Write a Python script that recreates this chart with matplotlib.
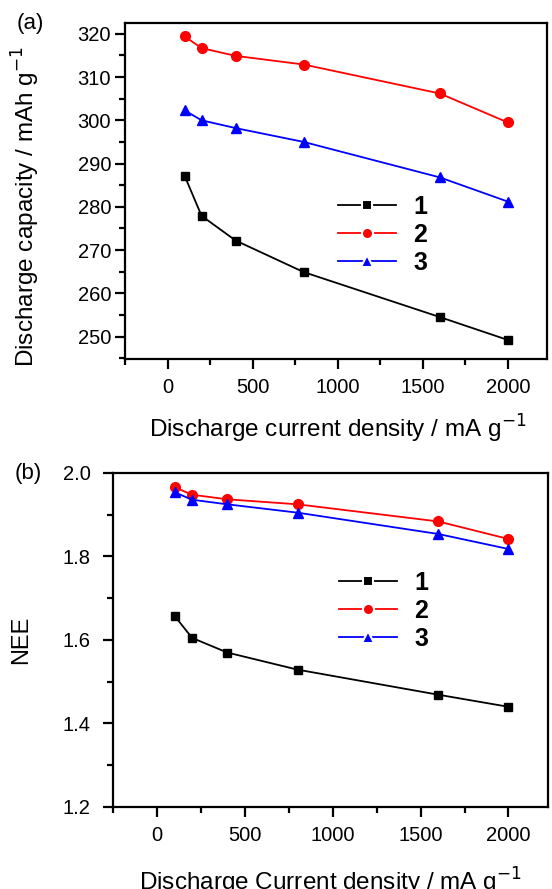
import matplotlib
matplotlib.use("Agg")
import matplotlib.pyplot as plt
from matplotlib.lines import Line2D
from matplotlib.ticker import MultipleLocator

plt.rcParams['font.family'] = ['Liberation Sans', 'DejaVu Sans']

# ---------------- data ---------------- #
current = [100, 200, 400, 800, 1600, 2000]          # mA g-1
series_names = ['1', '2', '3']

capacity_1 = [287.2, 277.9, 272.2, 264.9, 254.5, 249.2]
capacity_2 = [319.4, 316.7, 314.9, 312.9, 306.2, 299.5]
capacity_3 = [302.3, 300.0, 298.2, 295.0, 286.8, 281.2]

nee_1 = [1.658, 1.605, 1.570, 1.529, 1.469, 1.440]
nee_2 = [1.966, 1.948, 1.937, 1.925, 1.884, 1.842]
nee_3 = [1.954, 1.936, 1.925, 1.905, 1.854, 1.818]

colors = ['black', '#ff0000', '#0000ff']
markers = ['s', 'o', '^']
msizes = [6, 7, 7.5]

# ---------------- figure ---------------- #
W, H = 552, 889
fig = plt.figure(figsize=(W / 100, H / 100), dpi=100)


def px_axes(left, top, right, bottom):
    return fig.add_axes([left / W, 1 - bottom / H, (right - left) / W, (bottom - top) / H])


def style_axes(ax, ymajor, yminor, ypad):
    for sp in ax.spines.values():
        sp.set_linewidth(1.6)
    ax.xaxis.set_major_locator(MultipleLocator(500))
    ax.xaxis.set_minor_locator(MultipleLocator(250))
    ax.yaxis.set_major_locator(MultipleLocator(ymajor))
    ax.yaxis.set_minor_locator(MultipleLocator(yminor))
    ax.tick_params(which='both', direction='out', top=False, right=False, width=1.6)
    ax.tick_params(which='major', length=7, labelsize=14.5)
    ax.tick_params(which='minor', length=4)
    ax.tick_params(axis='x', which='major', pad=7)
    ax.tick_params(axis='y', which='major', pad=ypad)


def draw_panel(ax, ys):
    for y, c, m, ms in zip(ys, colors, markers, msizes):
        ax.plot(current, y, color=c, marker=m, markersize=ms, linewidth=1.3,
                markeredgecolor=c)


def add_legend(ax, x, y):
    handles = [Line2D([], [], color=c, marker=m, markersize=ms + 1, linewidth=1.3,
                      markeredgecolor='white', markerfacecolor=c, markeredgewidth=1.5)
               for c, m, ms in zip(colors, markers, msizes)]
    ax.legend(handles, series_names, loc='upper left', bbox_to_anchor=(x, y),
              frameon=False, prop={'weight': 'bold', 'size': 18},
              handlelength=2.3, handletextpad=0.7, labelspacing=0.16,
              borderpad=0, borderaxespad=0)


# (a) discharge capacity
ax1 = px_axes(125, 23, 547, 359)
draw_panel(ax1, [capacity_1, capacity_2, capacity_3])
ax1.set_xlim(-250, 2230)
ax1.set_ylim(244.8, 322.5)
style_axes(ax1, 10, 5, 3)
ax1.set_xlabel('Discharge current density / mA g$^{-1}$', fontsize=17.5)
ax1.set_ylabel('Discharge capacity / mAh g$^{-1}$', fontsize=17.5)
ax1.xaxis.set_label_coords(0.505, -0.16)
ax1.yaxis.set_label_coords(-0.197, 0.455)
add_legend(ax1, 0.505, 0.489)
fig.text(30 / W, 1 - 23 / H, '(a)', fontsize=16, ha='center', va='center')

# (b) NEE
ax2 = px_axes(113, 473, 548, 807)
draw_panel(ax2, [nee_1, nee_2, nee_3])
ax2.set_xlim(-250, 2225)
ax2.set_ylim(1.2, 2.0)
style_axes(ax2, 0.2, 0.1, 9)
ax2.set_xlabel('Discharge Current density / mA g$^{-1}$', fontsize=17.5)
ax2.set_ylabel('NEE', fontsize=17)
ax2.xaxis.set_label_coords(0.5, -0.175)
ax2.yaxis.set_label_coords(-0.185, 0.5)
add_legend(ax2, 0.52, 0.706)
fig.text(28 / W, 1 - 474 / H, '(b)', fontsize=16, ha='center', va='center')

fig.savefig('out.png', dpi=100)
